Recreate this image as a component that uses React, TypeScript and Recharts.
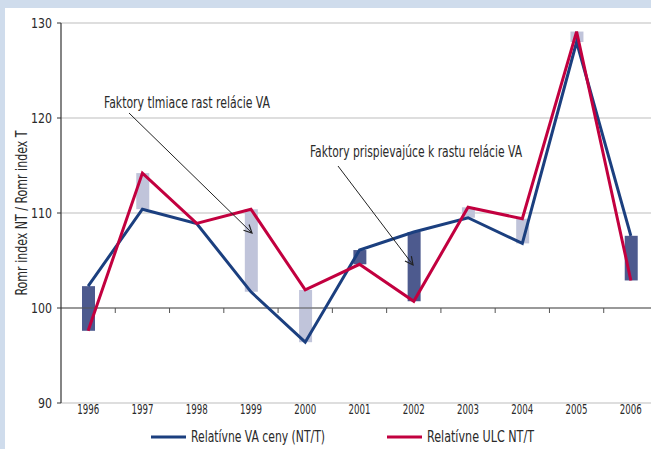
import {
  ComposedChart,
  Line,
  Bar,
  Cell,
  XAxis,
  YAxis,
  CartesianGrid,
  ReferenceLine,
} from "recharts";

const years = ["1996", "1997", "1998", "1999", "2000", "2001", "2002", "2003", "2004", "2005", "2006"];
const vaPrices = [102.3, 110.4, 108.9, 101.7, 96.4, 106.1, 108.0, 109.5, 106.8, 128.0, 107.6];
const ulc = [97.6, 114.2, 108.9, 110.4, 101.9, 104.6, 100.7, 110.6, 109.4, 129.1, 102.9];
const yTicks = [90, 100, 110, 120, 130];

const BLUE = "#1b3f7f";
const RED = "#c2003f";
const DARK_BAR = "#4d5a8e";
const LIGHT_BAR = "#c0c4da";
const TEXT = "#2a2a2a";
const FONT = "'DejaVu Sans Condensed', 'Liberation Sans', sans-serif";

const data = years.map((year, i) => ({
  year,
  va: vaPrices[i],
  ulc: ulc[i],
  gap: vaPrices[i] === ulc[i] ? null : [Math.min(vaPrices[i], ulc[i]), Math.max(vaPrices[i], ulc[i])],
}));

// narrow text, squeezed to the width the condensed original font takes
const Narrow = ({ width, children, ...rest }: any) => (
  <text {...rest} fontFamily={FONT} fill={TEXT} textLength={width} lengthAdjust="spacingAndGlyphs">
    {children}
  </text>
);

const XTick = ({ x, y, payload }: any) => (
  <Narrow x={x - 11} y={y + 11} fontSize={14} width={22}>
    {payload.value}
  </Narrow>
);

const YTick = ({ x, y, payload }: any) => {
  const w = String(payload.value).length * 7;
  return (
    <Narrow x={x - w} y={y + 5} fontSize={14} width={w}>
      {payload.value}
    </Narrow>
  );
};

// line at 100 with small ticks between the categories
const AxisAt100 = (props: any) => {
  const { x1, x2, y1 } = props;
  const step = (x2 - x1) / years.length;
  const ticks = [];
  for (let i = 1; i < years.length; i++) {
    const x = x1 + step * i;
    ticks.push(<line key={i} x1={x} x2={x} y1={y1} y2={y1 + 5} stroke="#555" strokeWidth={1} />);
  }
  return (
    <g>
      <line x1={x1} x2={x2} y1={y1} y2={y1} stroke="#555" strokeWidth={1.2} />
      {ticks}
    </g>
  );
};

export default function App() {
  return (
    <div
      style={{
        position: "absolute",
        left: 0,
        top: 0,
        width: 651,
        height: 449,
        background: "#cfdcec",
        overflow: "hidden",
        fontFamily: FONT,
      }}
    >
      <div style={{ position: "absolute", left: 5, top: 8, width: 700, height: 460, background: "#fff" }} />
      <div style={{ position: "absolute", left: 0, top: 0 }}>
        <ComposedChart width={680} height={449} data={data} margin={{ top: 23, right: 22, bottom: 0, left: 0 }}>
          <CartesianGrid vertical={false} stroke="#bdbdbd" strokeWidth={1} />
          <XAxis
            dataKey="year"
            axisLine={false}
            tickLine={false}
            tickSize={0}
            tickMargin={0}
            height={46}
            interval={0}
            tick={<XTick />}
          />
          <YAxis
            domain={[90, 130]}
            ticks={yTicks}
            width={61}
            tickSize={4}
            tickMargin={5}
            axisLine={{ stroke: "#333", strokeWidth: 1.2 }}
            tickLine={{ stroke: "#333" }}
            tick={<YTick />}
          />
          <ReferenceLine y={100} shape={AxisAt100} />
          <Bar dataKey="gap" barSize={13} isAnimationActive={false}>
            {data.map((d, i) => (
              <Cell key={i} fill={d.va > d.ulc ? DARK_BAR : LIGHT_BAR} />
            ))}
          </Bar>
          <Line type="linear" dataKey="va" stroke={BLUE} strokeWidth={3} dot={false} isAnimationActive={false} />
          <Line type="linear" dataKey="ulc" stroke={RED} strokeWidth={3} dot={false} isAnimationActive={false} />
        </ComposedChart>
      </div>
      <svg width={651} height={449} style={{ position: "absolute", left: 0, top: 0, pointerEvents: "none" }}>
        <defs>
          <marker id="arrow" markerWidth="10" markerHeight="10" refX="9" refY="5" orient="auto" markerUnits="userSpaceOnUse">
            <path d="M1,1 L9,5 L1,9" fill="none" stroke="#222" strokeWidth={1.2} />
          </marker>
        </defs>
        <Narrow x={0} y={0} fontSize={15} width={165} transform="translate(27,213) rotate(-90)" textAnchor="middle">
          Romr index NT / Romr index T
        </Narrow>
        <Narrow x={104} y={108} fontSize={15} width={166}>
          Faktory tlmiace rast relácie VA
        </Narrow>
        <line x1={129} y1={113} x2={252} y2={233} stroke="#222" strokeWidth={1} markerEnd="url(#arrow)" />
        <Narrow x={310} y={157} fontSize={15} width={212}>
          Faktory prispievajúce k rastu relácie VA
        </Narrow>
        <line x1={338} y1={166} x2={413} y2={265} stroke="#222" strokeWidth={1} markerEnd="url(#arrow)" />
        <line x1={151} x2={186} y1={437} y2={437} stroke={BLUE} strokeWidth={3} />
        <Narrow x={191} y={442} fontSize={15} width={134}>
          Relatívne VA ceny (NT/T)
        </Narrow>
        <line x1={387} x2={422} y1={437} y2={437} stroke={RED} strokeWidth={3} />
        <Narrow x={427} y={442} fontSize={15} width={107}>
          Relatívne ULC NT/T
        </Narrow>
      </svg>
    </div>
  );
}
